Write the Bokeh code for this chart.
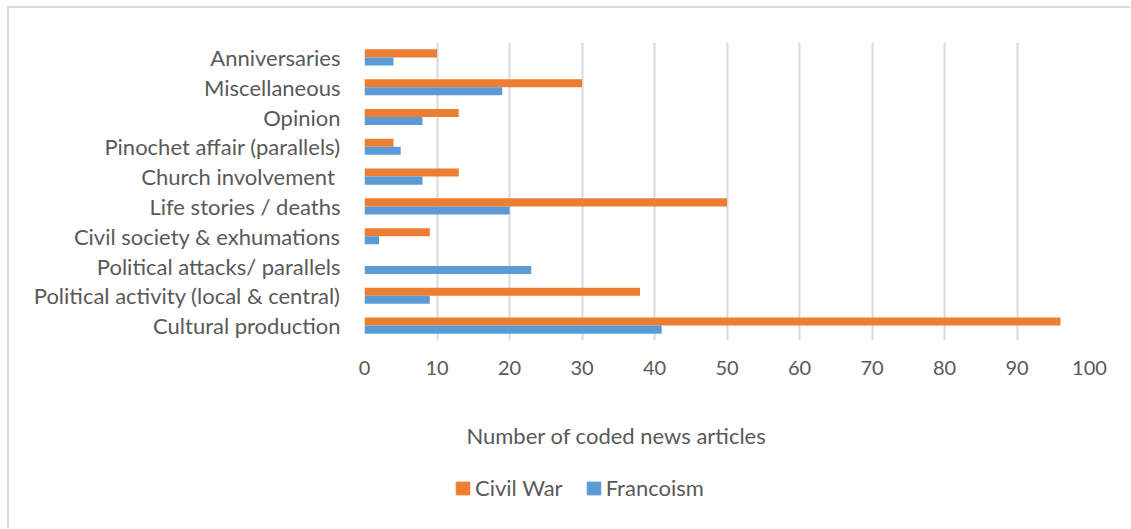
from bokeh.plotting import figure
from bokeh.layouts import column
from bokeh.models import (Range1d, FactorRange, Legend, LegendItem, Label,
                          ColumnDataSource)
from bokeh.transform import dodge
from bokeh.embed import file_html
from bokeh.resources import INLINE

# Article counts per theme, listed top to bottom
categories = ["Anniversaries", "Miscellaneous", "Opinion",
              "Pinochet affair (parallels)", "Church involvement ",
              "Life stories / deaths", "Civil society & exhumations",
              "Political attacks/ parallels",
              "Political activity (local & central)", "Cultural production"]
civil_war = [10, 30, 13, 4, 13, 50, 9, 0, 38, 96]
francoism = [4, 19, 8, 5, 8, 20, 2, 23, 9, 41]
x_ticks = [0, 10, 20, 30, 40, 50, 60, 70, 80, 90, 100]
series_names = ["Civil War", "Francoism"]
axis_title = "Number of coded news articles"

FONT = "Lato"
TEXT = "#595959"
ORANGE = "#ED7D31"
BLUE = "#5B9BD5"
GRID = "#d9d9d9"
W = 1121

src = ColumnDataSource(dict(cat=categories, cw=civil_war, fr=francoism))

# ---- bar panel -------------------------------------------------------------
p = figure(width=W, height=392,
           y_range=FactorRange(factors=categories[::-1]),
           x_range=Range1d(0, 100),
           output_backend="svg", toolbar_location=None,
           min_border_left=355, min_border_right=41,
           min_border_top=34, min_border_bottom=60)
p.outline_line_color = None
p.background_fill_color = "white"
p.border_fill_color = "white"

r_cw = p.hbar(y=dodge("cat", 0.135, range=p.y_range), right="cw", left=0,
              height=0.27, fill_color=ORANGE, line_color=None, source=src)
r_fr = p.hbar(y=dodge("cat", -0.135, range=p.y_range), right="fr", left=0,
              height=0.27, fill_color=BLUE, line_color=None, source=src)

p.ygrid.grid_line_color = None
p.xgrid.grid_line_color = GRID
p.xgrid.grid_line_width = 2
p.xaxis.ticker = x_ticks
for ax in (p.xaxis[0], p.yaxis[0]):
    ax.axis_line_color = None
    ax.major_tick_line_color = None
    ax.minor_tick_line_color = None
    ax.major_tick_in = 0
    ax.major_tick_out = 0
    ax.major_label_text_font = FONT
    ax.major_label_text_color = TEXT
p.xaxis.major_label_text_font_size = "20px"
p.yaxis.major_label_text_font_size = "22px"
p.xaxis.major_label_standoff = 20
p.yaxis.major_label_standoff = 24

# ---- axis title and legend strip (frame lines up with the bar panel) --------
q = figure(width=W, height=128, x_range=Range1d(0, 1), y_range=Range1d(0, 1),
           x_axis_type=None, y_axis_type=None,
           output_backend="svg", toolbar_location=None, min_border=0)
q.outline_line_color = None
q.border_fill_color = "white"

q.add_layout(Label(x=252, y=93, x_units="screen", y_units="screen",
                   text=axis_title, text_font=FONT, text_font_size="22px",
                   text_color=TEXT, text_align="center",
                   text_baseline="alphabetic"))

# zero-size keys that carry the series colours into the legend
k_cw = q.hbar(y=[0], left=[0], right=[0], height=0, color=ORANGE)
k_fr = q.hbar(y=[0], left=[0], right=[0], height=0, color=BLUE)
legend = Legend(items=[LegendItem(label=series_names[0], renderers=[k_cw]),
                       LegendItem(label=series_names[1], renderers=[k_fr])],
                orientation="horizontal", location=(90, 27),
                padding=0, margin=0, spacing=22, label_standoff=4,
                glyph_width=17, glyph_height=16,
                label_text_font=FONT, label_text_font_size="22px",
                label_text_color=TEXT,
                border_line_color=None, background_fill_alpha=0)
q.add_layout(legend, "center")

# light chart-area frame along the top and left edges
layout = column(p, q, spacing=0,
                styles={"margin-left": "7px", "margin-top": "6px",
                        "border-left": "2px solid #d9d9d9",
                        "border-top": "2px solid #d9d9d9"})

open("out.html", "w").write(file_html(layout, INLINE))
